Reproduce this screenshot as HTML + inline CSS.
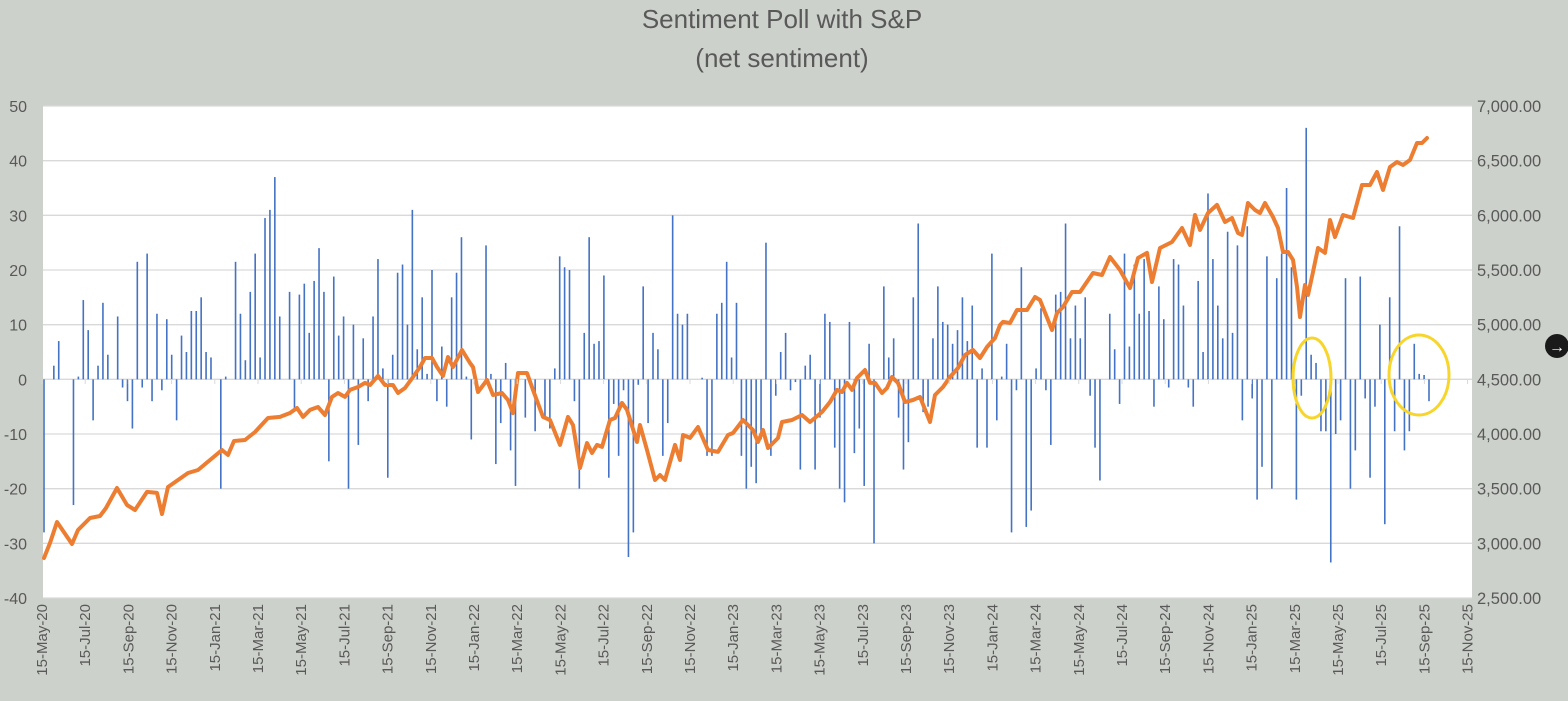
<!DOCTYPE html>
<html><head><meta charset="utf-8"><style>
html,body{margin:0;padding:0;background:#cdd1cb;}
svg{display:block;font-family:"Liberation Sans",sans-serif;}
</style></head><body>
<svg id="chart" width="1568" height="701" viewBox="0 0 1568 701">
<rect x="0" y="0" width="1568" height="701" fill="#cdd1cb"/>
<text x="782" y="28" text-anchor="middle" font-size="26" fill="#595959">Sentiment Poll with S&amp;P</text>
<text x="782" y="67" text-anchor="middle" font-size="26" fill="#595959">(net sentiment)</text>
<rect x="43" y="106" width="1429" height="492" fill="#ffffff"/>
<g id="grid"></g>
<g id="bars"></g>
<g id="line"></g>
<g id="yleft"></g>
<g id="yright"></g>
<g id="xaxis"></g>
<ellipse cx="1312" cy="378" rx="19" ry="40" fill="none" stroke="#f7d52a" stroke-width="3"/>
<ellipse cx="1419" cy="375" rx="30" ry="40" fill="none" stroke="#f7d52a" stroke-width="3"/>
<g>
<circle cx="1557" cy="346" r="12" fill="#1a1a1a"/>
<text x="1557" y="352" text-anchor="middle" font-size="16" fill="#ffffff">→</text>
</g>
</svg>
<script>
const sentiment = [-28,0,2.5,7,0,0,-23,0.5,14.5,9,-7.5,2.5,14,4.5,0,11.5,-1.5,-4,-9,21.5,-1.5,23,-4,12,-2,11,4.5,-7.5,8,5,12.5,12.5,15,5,4,0,-20,0.5,0,21.5,12,3.5,16,23,4,29.5,31,37,11.5,0,16,-5.7,15.5,17.5,8.5,18,24,16,-15,18.8,8,11.5,-20,10,-12,7.5,-4,11.5,22,2,-18,4.5,19.5,21,10,31,5.5,15,1,20,-4,6,-5,15,19.5,26,0.5,-11,-2,0,24.5,1,-15.5,-8,3,-13,-19.5,0,-7,0,-9.5,0,-7,-9,2,22.5,20.5,20,-4,-20,8.5,26,6.5,7,19,-18,-4.5,-14,-2,-32.5,-28,-1,17,-8,8.5,5.5,-14,-8,30,12,10,12,0,0,0.3,-14,-14,12,14,21.5,4,14,-14,-20,-16,-19,-11,25,-14,-3,5,8.5,-2,-0.5,-16.5,2.5,4.5,-16.5,-7,12,10.5,-12.5,-20,-22.5,10.5,-13.5,-9,-19.5,6.5,-30,0,17,4,7.5,-7,-16.5,-11.5,15,28.5,-6,-5,7.5,17,10.5,10,6.5,9,15,7,13.5,-12.5,2,-12.5,23,-7.5,0.5,6.5,-28,-2,20.5,-27,-24,2,13,-2,-12,15.5,16,28.5,7.5,13.5,7.5,15,-3,-12.5,-18.5,0,12,5.5,-4.5,23,6,21,12,22,12.5,-5,17,11,-1.5,22,21,13.5,-1.5,-5,18,5,34,22,13.5,7.5,27,8.5,24.5,-7.5,28,-3.5,-22,-16,22.5,-20,18.5,23,35,20.5,-22,-3,46,4.5,3,-9.5,-9.5,-33.5,-10,-7.5,18.5,-20,-13,18.8,-3.5,-18,-5,10,-26.5,15,-9.5,28,-13,-9.5,6.5,1,0.8,-4];
const spxWeek = [0,1.2,2.6,5.6,6.8,9.2,11.2,12.4,14.6,16.6,18.2,20.6,22.6,23.6,24.8,26.8,28.8,30.8,33.2,35.6,36.8,38,40.2,42.2,44.8,47.2,49.2,50.6,51.8,53.2,54.8,56.2,57.6,58.8,60.2,61.2,62.8,64.2,65.2,66.8,68.2,69.8,70.8,72.2,73.8,75.2,76.2,77.6,78.6,79.8,80.8,81.8,83.6,85.2,85.8,86.8,88.6,89.8,91.6,92.8,93.8,94.8,96.6,97.8,99.8,101.2,103.2,104.8,105.8,107.2,108.6,109.6,110.6,111.6,113.2,114.2,115.6,116.6,118.6,119.2,120.6,122.2,123.2,124.2,126.2,127.2,127.8,129.2,130.8,132.8,134.8,136.8,137.8,139.8,141.8,142.8,143.8,144.8,146.8,147.6,149.6,151.6,153.2,155.6,157.2,158.6,159.6,160.6,161.6,162.6,164.2,165.2,166.2,167.6,168.6,169.6,170.8,172.2,173.8,175.2,177.2,178.2,179.8,181.2,182.8,184.2,185.8,187.2,188.6,190.2,191.2,191.8,193.2,194.6,196.6,198.2,199.2,201.6,202.6,203.8,205.6,207.2,209.8,211.6,213.2,215.2,217.2,218.8,220.6,221.6,223.2,225.6,227.6,229.2,230.2,231.2,232.8,234.6,236.2,237.6,238.8,239.6,240.8,242.2,243.2,244.2,245.8,246.8,247.8,248.8,249.8,250.6,251.2,252.2,252.8,253.8,254.8,256.2,257.2,258.2,259.8,261.8,263.6,265.2,266.6,267.8,269.2,270.6,271.8,273.2,274.6,275.6,276.6];
const spxValue = [2866,3003,3195,2994,3122,3232,3250,3323,3506,3351,3305,3470,3461,3268,3515,3579,3643,3671,3762,3854,3808,3936,3945,4018,4146,4156,4192,4238,4156,4220,4247,4174,4339,4375,4339,4403,4430,4467,4448,4531,4448,4448,4375,4421,4521,4613,4695,4695,4613,4531,4704,4613,4768,4649,4613,4384,4494,4357,4375,4311,4192,4558,4558,4403,4156,4128,3900,4156,4082,3689,3918,3826,3900,3882,4128,4146,4284,4220,3927,4082,3854,3579,3625,3579,3900,3762,3991,3964,4064,3854,3836,3991,4009,4128,4037,3927,4037,3872,3963,4110,4128,4174,4110,4201,4293,4403,4384,4467,4403,4512,4585,4467,4467,4375,4421,4521,4467,4293,4311,4339,4110,4357,4430,4521,4604,4723,4768,4695,4796,4878,4997,5025,5015,5134,5134,5253,5226,4951,5107,5162,5299,5299,5473,5454,5619,5500,5335,5610,5656,5390,5701,5756,5884,5729,6003,5866,6021,6095,5939,5976,5838,5820,6113,6049,6021,6113,5985,5884,5665,5665,5592,5345,5070,5363,5271,5482,5701,5656,5957,5802,6003,5976,6277,6277,6396,6232,6442,6488,6460,6506,6662,6662,6707];
const leftTicks = [50,40,30,20,10,0,-10,-20,-30,-40];
const rightTicks = ["7,000.00","6,500.00","6,000.00","5,500.00","5,000.00","4,500.00","4,000.00","3,500.00","3,000.00","2,500.00"];
const dateLabels = ["15-May-20","15-Jul-20","15-Sep-20","15-Nov-20","15-Jan-21","15-Mar-21","15-May-21","15-Jul-21","15-Sep-21","15-Nov-21","15-Jan-22","15-Mar-22","15-May-22","15-Jul-22","15-Sep-22","15-Nov-22","15-Jan-23","15-Mar-23","15-May-23","15-Jul-23","15-Sep-23","15-Nov-23","15-Jan-24","15-Mar-24","15-May-24","15-Jul-24","15-Sep-24","15-Nov-24","15-Jan-25","15-Mar-25","15-May-25","15-Jul-25","15-Sep-25","15-Nov-25"];

const NS = "http://www.w3.org/2000/svg";
const TOP = 106, BOT = 598;
function yL(v){ return TOP + (50 - v) / 90 * (BOT - TOP); }
function yR(v){ return TOP + (7000 - v) / 4500 * (BOT - TOP); }
function xW(w){ return 44 + w * 5.0; }
function xB(i){ return 44 + i * (1429 - 44) / (sentiment.length - 1); }
function xD(i){ return 42 + i * 43.2; }
function mk(tag, attrs, parent){
  const e = document.createElementNS(NS, tag);
  for (const k in attrs) e.setAttribute(k, attrs[k]);
  parent.appendChild(e);
  return e;
}
const grid = document.getElementById('grid');
const yl = document.getElementById('yleft');
const yr = document.getElementById('yright');
leftTicks.forEach((t, i) => {
  const y = yL(t);
  const g = mk('line', {x1:43, x2:1472, y1:y, y2:y, stroke:'#d9d9d9', 'stroke-width':1.3}, grid);
  
  
  const tl = mk('text', {x:27, y:y+6, 'text-anchor':'end', 'font-size':16, fill:'#595959'}, yl);
  tl.textContent = t;
  
  
  const tr = mk('text', {x:1477, y:y+6, 'font-size':16.5, fill:'#595959'}, yr);
  tr.textContent = rightTicks[i];
  
  
});
const bars = document.getElementById('bars');
sentiment.forEach((v, i) => {
  if (v === 0) return;
  const x = xB(i);
  const b = mk('rect', {x:x-0.8, y:Math.min(yL(v), yL(0)), width:1.6, height:Math.abs(yL(v)-yL(0)), fill:'#4472c4'}, bars);
  
  
});
const xa = document.getElementById('xaxis');
dateLabels.forEach((d, i) => {
  const x = xD(i);
  const tk = mk('line', {x1:x, x2:x, y1:379, y2:384, stroke:'#d9d9d9', 'stroke-width':1}, xa);
  
  
  const t = mk('text', {x:0, y:0, 'text-anchor':'end', 'font-size':15, fill:'#595959', transform:'translate(' + (x+5) + ',604) rotate(-90)'}, xa);
  t.textContent = d;
  
  
});
const lg = document.getElementById('line');
const pts = spxWeek.map((w, i) => xW(w).toFixed(1) + ',' + yR(spxValue[i]).toFixed(1)).join(' ');
const pl = mk('polyline', {points:pts, fill:'none', stroke:'#ed7d31', 'stroke-width':4, 'stroke-linejoin':'round', 'stroke-linecap':'round'}, lg);


</script>
</body></html>
